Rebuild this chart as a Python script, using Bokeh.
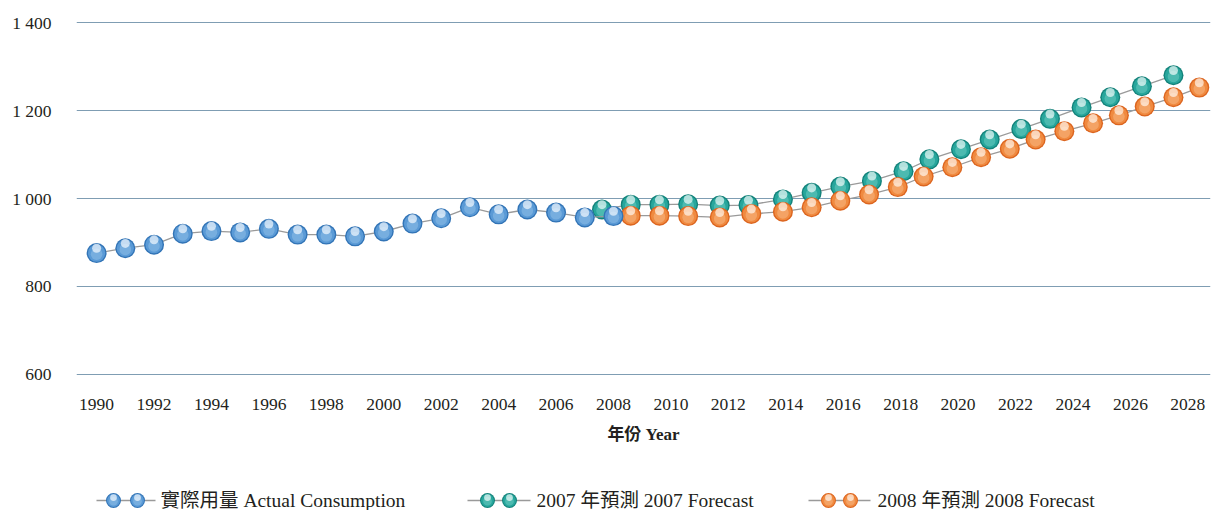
from bokeh.plotting import figure
from bokeh.models import ColumnDataSource, FixedTicker
from bokeh.layouts import column
from bokeh.transform import dodge
from bokeh.core.properties import value
from bokeh.embed import file_html
from bokeh.resources import INLINE

# Annual water consumption (million m3) and two forecasts
actual_years = [1990, 1991, 1992, 1993, 1994, 1995, 1996, 1997, 1998, 1999,
                2000, 2001, 2002, 2003, 2004, 2005, 2006, 2007, 2008]
actual = [876, 887, 895, 920, 926, 923, 931, 918, 918, 914,
          925, 943, 955, 980, 964, 975, 968, 957, 960]

fc2007_x = [2007.6, 2008.6, 2009.6, 2010.6, 2011.7, 2012.7, 2013.9, 2014.9,
            2015.9, 2017.0, 2018.1, 2019.0, 2020.1, 2021.1, 2022.2, 2023.2,
            2024.3, 2025.3, 2026.4, 2027.5]
fc2007 = [975, 986, 986, 987, 984, 985, 998, 1013, 1027, 1040, 1062, 1089,
          1112, 1134, 1158, 1181, 1207, 1230, 1255, 1280]

fc2008_x = [2008.6, 2009.6, 2010.6, 2011.7, 2012.8, 2013.9, 2014.9, 2015.9,
            2016.9, 2017.9, 2018.8, 2019.8, 2020.8, 2021.8, 2022.7, 2023.7,
            2024.7, 2025.6, 2026.5, 2027.5, 2028.4]
fc2008 = [961, 961, 960, 957, 965, 970, 980, 995, 1009, 1026, 1050, 1071,
          1094, 1113, 1134, 1153, 1171, 1189, 1209, 1230, 1252]

x_ticks = [1990, 1992, 1994, 1996, 1998, 2000, 2002, 2004, 2006, 2008,
           2010, 2012, 2014, 2016, 2018, 2020, 2022, 2024, 2026, 2028]
y_ticks = [600, 800, 1000, 1200, 1400]
y_tick_labels = ["600", "800", "1 000", "1 200", "1 400"]

series_labels = ["實際用量 Actual Consumption", "2007 年預測 2007 Forecast",
                 "2008 年預測 2008 Forecast"]
x_title = "年份 Year"

SERIF = "Liberation Serif, Noto Sans CJK TC"
INK = "#231f20"

# (edge, body, inner, highlight) shades for the glossy balls
BLUE = ("#3274b6", "#5a9ad6", "#8fc0e8", "#f2f8fe")
TEAL = ("#13827a", "#27a69c", "#6ccac1", "#effbf9")
ORANGE = ("#dc651f", "#f08a40", "#f8b883", "#fff5ec")

p = figure(width=1213, height=470, x_range=(1989.30, 2028.79),
           y_range=(595.45, 1404.55),
           output_backend="svg", toolbar_location=None,
           min_border_left=76, min_border_right=3, min_border_top=20,
           min_border_bottom=94)
p.outline_line_color = None
p.background_fill_color = "white"
p.border_fill_color = "white"

p.xgrid.grid_line_color = None
p.ygrid.grid_line_color = "#7f9db3"
p.ygrid.grid_line_width = 1.2
p.ygrid.ticker = FixedTicker(ticks=y_ticks)

p.xaxis.ticker = FixedTicker(ticks=x_ticks)
p.yaxis.ticker = FixedTicker(ticks=y_ticks)
p.yaxis.major_label_overrides = dict(zip(y_ticks, y_tick_labels))
for ax in (p.xaxis, p.yaxis):
    ax.axis_line_color = None
    ax.major_tick_line_color = None
    ax.minor_tick_line_color = None
    ax.major_label_text_font = SERIF
    ax.major_label_text_font_size = "17.5px"
    ax.major_label_text_color = INK
p.yaxis.major_label_standoff = 19
p.xaxis.major_label_standoff = 16
p.xaxis.axis_label = x_title
p.xaxis.axis_label_text_font = SERIF
p.xaxis.axis_label_text_font_size = "17px"
p.xaxis.axis_label_text_font_style = "bold"
p.xaxis.axis_label_text_color = INK
p.xaxis.axis_label_standoff = 12


def glossy(fig, src, xcol, ycol, shades, size, lift):
    edge, body, inner, hi = shades
    fig.scatter(xcol, ycol, source=src, size=size, fill_color=edge, line_color=None)
    fig.scatter(xcol, ycol, source=src, size=size * 0.86, fill_color=body, line_color=None)
    fig.scatter(xcol, dodge(ycol, -lift * 0.25, range=fig.y_range), source=src,
                size=size * 0.58, fill_color=inner, fill_alpha=0.55, line_color=None)
    fig.scatter(xcol, dodge(ycol, lift, range=fig.y_range), source=src,
                size=size * 0.45, fill_color=hi, fill_alpha=0.7, line_color=None)


series = [
    (fc2007_x, fc2007, TEAL),
    (fc2008_x, fc2008, ORANGE),
    (actual_years, actual, BLUE),
]
for xs, ys, shades in series:
    src = ColumnDataSource(dict(x=xs, v=ys))
    p.line("x", "v", source=src, line_color="#9a9a9a", line_width=1.3)
    glossy(p, src, "x", "v", shades, 20, 11)

# Legend strip below the chart; its x scale runs in page pixels
leg = figure(width=1213, height=40, x_range=(76, 1210), y_range=(0, 40),
             output_backend="svg", toolbar_location=None,
             min_border=0, min_border_left=76, min_border_right=3,
             min_border_top=0, min_border_bottom=0)
leg.axis.visible = False
leg.grid.visible = False
leg.outline_line_color = None
leg.border_fill_color = "white"

leg_line = [(96, 155), (467, 530), (808, 870)]
leg_balls = [(113, 137), (487, 509), (828, 850)]
leg_text_x = [160, 536, 877]
for (x0, x1), (b0, b1), tx, label, shades in zip(
        leg_line, leg_balls, leg_text_x, series_labels, (BLUE, TEAL, ORANGE)):
    leg.line([x0, x1], [10, 10], line_color="#9a9a9a", line_width=1.3)
    bsrc = ColumnDataSource(dict(x=[b0, b1], v=[10, 10]))
    glossy(leg, bsrc, "x", "v", shades, 15, 3)
    leg.text([tx], [10], text=[label], text_font=value(SERIF),
             text_font_size="19.5px", text_color=INK, text_baseline="middle",
             text_align="left")

layout = column(p, leg, spacing=0)
open("out.html", "w").write(file_html(layout, INLINE))
